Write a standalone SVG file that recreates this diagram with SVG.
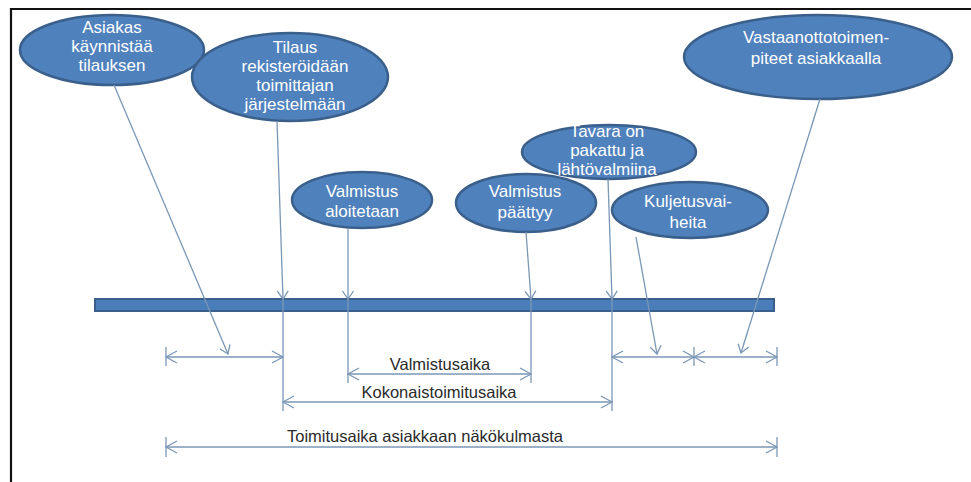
<svg xmlns="http://www.w3.org/2000/svg" width="971" height="482" viewBox="0 0 971 482">
  <defs>
    <style>
      .node ellipse { fill: #4f81bd; stroke: #3a5f8b; stroke-width: 2.5; }
      .node text { fill: #ffffff; font-family: "Liberation Sans", Arial, sans-serif; font-size: 17px; text-anchor: middle; }
      .conn line { stroke: #7b97b6; stroke-width: 1.3; fill: none; }
      .lbl { fill: #2a2a2a; font-family: "Liberation Sans", Arial, sans-serif; font-size: 16.5px; text-anchor: middle; }
    </style>
    <marker id="tip" viewBox="-10 -7 12 14" refX="0" refY="0" markerWidth="12" markerHeight="14" orient="auto-start-reverse" markerUnits="userSpaceOnUse">
      <path d="M-8,-5.5 L0,0 L-8,5.5" fill="none" stroke="#7b97b6" stroke-width="1.3"/>
    </marker>
    <marker id="dim" viewBox="-12 -7 14 14" refX="0" refY="0" markerWidth="14" markerHeight="14" orient="auto-start-reverse" markerUnits="userSpaceOnUse">
      <path d="M-11,-6 L0,0 L-11,6" fill="none" stroke="#7b97b6" stroke-width="1.3"/>
    </marker>
  </defs>

  <rect width="971" height="482" fill="#ffffff"/>
  <!-- frame -->
  <path d="M11,482 L11,9 L971,9" fill="none" stroke="#111" stroke-width="2.2"/>

  <!-- timeline bar -->
  <rect id="timeline" x="95" y="299" width="679" height="12" fill="#4a7ebb" stroke="#3a5f8b" stroke-width="2"/>

  <g id="n1" class="node">
    <ellipse cx="112" cy="50" rx="92" ry="35"/>
    <text x="112" y="33">Asiakas</text>
    <text x="112" y="52">käynnistää</text>
    <text x="112" y="71">tilauksen</text>
  </g>
  <g id="n2" class="node">
    <ellipse cx="290" cy="77" rx="98" ry="44"/>
    <text x="295" y="53">Tilaus</text>
    <text x="295" y="72">rekisteröidään</text>
    <text x="295" y="91">toimittajan</text>
    <text x="295" y="110">järjestelmään</text>
  </g>
  <g id="n3" class="node">
    <ellipse cx="362" cy="200" rx="70" ry="28"/>
    <text x="362" y="197">Valmistus</text>
    <text x="362" y="217">aloitetaan</text>
  </g>
  <g id="n5" class="node">
    <ellipse cx="609" cy="152" rx="87" ry="27"/>
    <text x="607" y="137">Tavara on</text>
    <text x="607" y="156">pakattu ja</text>
    <text x="607" y="175">lähtövalmiina</text>
  </g>
  <g id="n4" class="node">
    <ellipse cx="526" cy="203" rx="70" ry="29"/>
    <text x="525" y="197">Valmistus</text>
    <text x="525" y="218">päättyy</text>
  </g>
  <g id="n6" class="node">
    <ellipse cx="690" cy="210" rx="78" ry="28"/>
    <text x="688" y="207">Kuljetusvai-</text>
    <text x="688" y="228">heita</text>
  </g>
  <g id="n7" class="node">
    <ellipse cx="818" cy="57" rx="134" ry="42"/>
    <text x="816" y="43">Vastaanottotoimen-</text>
    <text x="816" y="64">piteet asiakkaalla</text>
  </g>

  <g id="connectors" class="conn">
    <!-- event pointers onto the timeline -->
    <line x1="114" y1="85" x2="228" y2="354" marker-end="url(#tip)"/>
    <line x1="277" y1="121" x2="283" y2="299" marker-end="url(#tip)"/>
    <line x1="348" y1="228" x2="348" y2="299" marker-end="url(#tip)"/>
    <line x1="526" y1="232" x2="531" y2="299" marker-end="url(#tip)"/>
    <line x1="608" y1="179" x2="612" y2="299" marker-end="url(#tip)"/>
    <line x1="636" y1="237" x2="657" y2="354" marker-end="url(#tip)"/>
    <line x1="820" y1="99" x2="741" y2="353" marker-end="url(#tip)"/>

    <!-- extension lines below the bar -->
    <line x1="283" y1="299" x2="283" y2="411"/>
    <line x1="348" y1="299" x2="348" y2="383"/>
    <line x1="531" y1="299" x2="531" y2="383"/>
    <line x1="612" y1="299" x2="612" y2="411"/>

    <!-- end ticks -->
    <line x1="166" y1="347" x2="166" y2="366"/>
    <line x1="694" y1="347" x2="694" y2="366"/>
    <line x1="777" y1="347" x2="777" y2="366"/>
    <line x1="166" y1="437" x2="166" y2="457"/>
    <line x1="777" y1="437" x2="777" y2="457"/>

    <!-- dimension arrows -->
    <line x1="166" y1="357" x2="283" y2="357" marker-start="url(#dim)" marker-end="url(#dim)"/>
    <line x1="612" y1="357" x2="694" y2="357" marker-start="url(#dim)" marker-end="url(#dim)"/>
    <line x1="694" y1="357" x2="777" y2="357" marker-start="url(#dim)" marker-end="url(#dim)"/>
    <line x1="348" y1="374" x2="531" y2="374" marker-start="url(#dim)" marker-end="url(#dim)"/>
    <line x1="283" y1="402" x2="612" y2="402" marker-start="url(#dim)" marker-end="url(#dim)"/>
    <line x1="166" y1="447" x2="777" y2="447" marker-start="url(#dim)" marker-end="url(#dim)"/>
  </g>

  <text class="lbl" x="440" y="370">Valmistusaika</text>
  <text class="lbl" x="439" y="398">Kokonaistoimitusaika</text>
  <text class="lbl" x="425" y="442">Toimitusaika asiakkaan näkökulmasta</text>
</svg>
